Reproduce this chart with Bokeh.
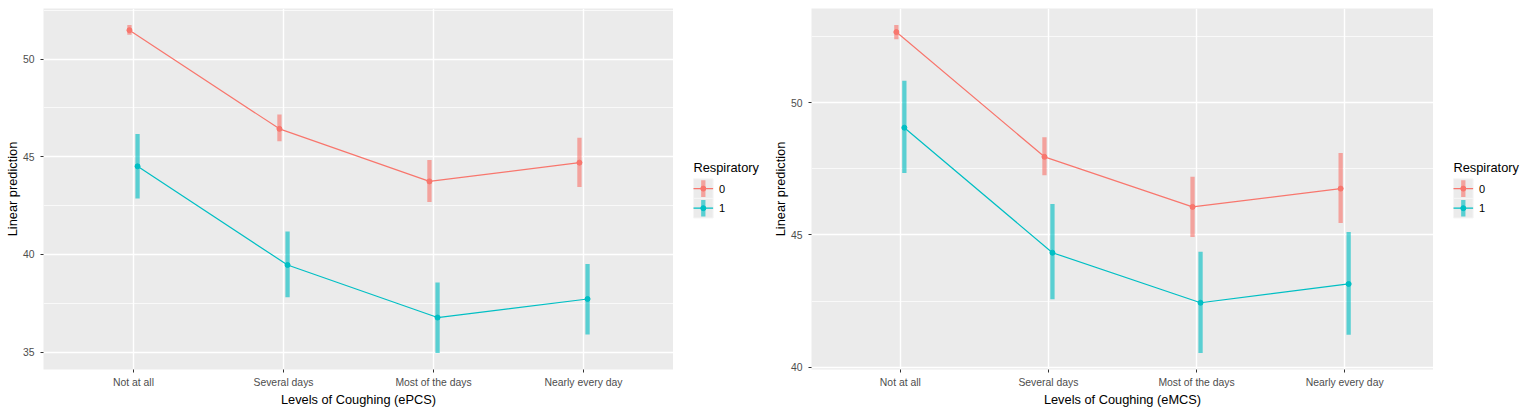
from bokeh.core.properties import value
from bokeh.embed import file_html
from bokeh.layouts import row
from bokeh.models import ColumnDataSource, FixedTicker, Range1d, SingleIntervalTicker
from bokeh.plotting import figure
from bokeh.resources import INLINE

levels = ["Not at all", "Several days", "Most of the days", "Nearly every day"]
groups = ["0", "1"]

# ePCS panel: linear prediction and confidence limits per group
pcs_fit_0 = [51.48, 46.43, 43.74, 44.70]
pcs_lo_0 = [51.24, 45.79, 42.69, 43.45]
pcs_hi_0 = [51.75, 47.17, 44.83, 45.97]
pcs_fit_1 = [44.51, 39.46, 36.77, 37.72]
pcs_lo_1 = [42.87, 37.81, 34.95, 35.90]
pcs_hi_1 = [46.16, 41.18, 38.57, 39.51]

# eMCS panel
mcs_fit_0 = [52.66, 47.95, 46.06, 46.75]
mcs_lo_0 = [52.39, 47.25, 44.92, 45.45]
mcs_hi_0 = [52.93, 48.69, 47.20, 48.09]
mcs_fit_1 = [49.05, 44.33, 42.44, 43.15]
mcs_lo_1 = [47.34, 42.57, 40.54, 41.23]
mcs_hi_1 = [50.82, 46.17, 44.37, 45.11]

FONT = "Liberation Sans"
COLORS = {"0": "#F8766D", "1": "#00BFC4"}
DODGE = {"0": -0.027, "1": 0.027}
BAR_ALPHA = 0.62
HEIGHT = 412
BORDER_TOP = 8
BORDER_BOTTOM = 43


def make_panel(x_label, series, width, border_left):
    lows = [v for _, lo, _ in series.values() for v in lo]
    highs = [v for _, _, hi in series.values() for v in hi]
    pad = (max(highs) - min(lows)) * 0.05

    p = figure(
        width=width,
        height=HEIGHT,
        x_range=Range1d(0.4, len(levels) + 0.6),
        y_range=Range1d(min(lows) - pad, max(highs) + pad),
        output_backend="svg",
        toolbar_location=None,
        min_border_left=border_left,
        min_border_right=0,
        min_border_top=BORDER_TOP,
        min_border_bottom=BORDER_BOTTOM,
        x_axis_label=x_label,
        y_axis_label="Linear prediction",
    )
    p.background_fill_color = "#EBEBEB"
    p.border_fill_color = "white"
    p.outline_line_color = None

    positions = list(range(1, len(levels) + 1))
    p.xaxis.ticker = FixedTicker(ticks=positions)
    p.xaxis.major_label_overrides = {i: name for i, name in zip(positions, levels)}
    p.yaxis.ticker = SingleIntervalTicker(interval=5, num_minor_ticks=2)

    for ax in p.axis:
        ax.axis_line_color = None
        ax.major_tick_line_color = "#333333"
        ax.major_tick_out = 3
        ax.major_tick_in = 0
        ax.minor_tick_line_color = None
        ax.major_label_text_font = FONT
        ax.major_label_text_font_size = "10.4px"
        ax.major_label_text_color = "#4D4D4D"
        ax.axis_label_text_font = FONT
        ax.axis_label_text_font_size = "12.8px"
        ax.axis_label_text_font_style = "normal"
        ax.axis_label_text_color = "black"
    p.xaxis.major_label_standoff = 4
    p.xaxis.axis_label_standoff = 1
    p.yaxis.major_label_standoff = 5
    p.yaxis.axis_label_standoff = 0

    p.xgrid.ticker = FixedTicker(ticks=positions)
    p.grid.grid_line_color = "white"
    p.grid.grid_line_width = 1.4
    p.ygrid.minor_grid_line_color = "white"
    p.ygrid.minor_grid_line_width = 0.7

    for g in groups:
        fit, lo, hi = series[g]
        src = ColumnDataSource(dict(
            x=[i + DODGE[g] for i in positions], fit=fit, lo=lo, hi=hi,
        ))
        p.segment(x0="x", y0="lo", x1="x", y1="hi", source=src,
                  line_color=COLORS[g], line_alpha=BAR_ALPHA, line_width=4.3)
        p.line(x="x", y="fit", source=src, line_color=COLORS[g], line_width=1.2)
        p.scatter(x="x", y="fit", source=src, size=5, fill_color=COLORS[g],
                  line_color=COLORS[g])
    return p


def make_legend(width):
    # the row aligns frames, so use the same borders and page pixel coordinates
    p = figure(
        title=None,
        width=width,
        height=HEIGHT,
        x_range=Range1d(0, width),
        y_range=Range1d(HEIGHT - BORDER_BOTTOM, BORDER_TOP),
        output_backend="svg",
        toolbar_location=None,
        x_axis_location=None,
        y_axis_location=None,
        min_border_left=0,
        min_border_right=0,
        min_border_top=BORDER_TOP,
        min_border_bottom=BORDER_BOTTOM,
    )
    p.grid.grid_line_color = None
    p.outline_line_color = None
    p.background_fill_color = "white"

    left, key, top = 20, 19.6, 178.3
    p.text(x=[left], y=[top - 11.6], text=["Respiratory"], text_baseline="middle",
           text_font=value(FONT), text_font_size="12.8px", text_color="black")
    for i, g in enumerate(groups):
        cy = top + key * i + key / 2
        cx = left + key / 2
        p.rect(x=[cx], y=[cy], width=key, height=key, fill_color="#EBEBEB",
               line_color="#F5F5F5", line_width=1)
        p.segment(x0=[cx], y0=[cy - key / 2 + 1.5], x1=[cx], y1=[cy + key / 2 - 1.5],
                  line_color=COLORS[g], line_alpha=BAR_ALPHA, line_width=4.3)
        p.segment(x0=[left], y0=[cy], x1=[left + key], y1=[cy],
                  line_color=COLORS[g], line_width=1.2)
        p.scatter(x=[cx], y=[cy], size=5, fill_color=COLORS[g], line_color=COLORS[g])
        p.text(x=[left + key + 6], y=[cy], text=[g], text_baseline="middle",
               text_font=value(FONT), text_font_size="11px", text_color="black")
    return p


pcs = make_panel(
    "Levels of Coughing (ePCS)",
    {"0": (pcs_fit_0, pcs_lo_0, pcs_hi_0), "1": (pcs_fit_1, pcs_lo_1, pcs_hi_1)},
    673, 43,
)
mcs = make_panel(
    "Levels of Coughing (eMCS)",
    {"0": (mcs_fit_0, mcs_lo_0, mcs_hi_0), "1": (mcs_fit_1, mcs_lo_1, mcs_hi_1)},
    664, 35,
)

layout = row(pcs, make_legend(96), mcs, make_legend(91))
open("out.html", "w").write(file_html(layout, INLINE))
